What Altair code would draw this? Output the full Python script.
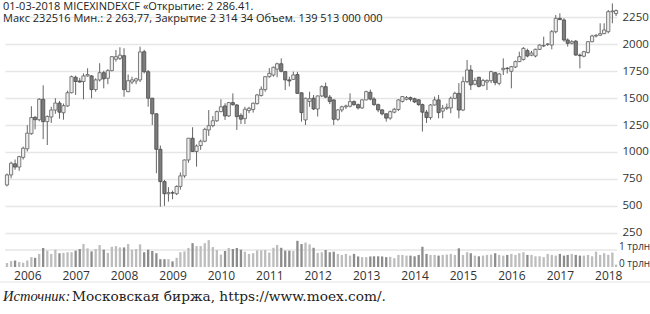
import altair as alt
import pandas as pd

# ---------------- data ----------------
months = []
y, m = 2005, 8
for _ in range(152):
    months.append(f"{y}-{m:02d}-01T00:00:00")
    m += 1
    if m > 12:
        m = 1
        y += 1

open_ = [694, 787, 890, 860, 950, 1030, 1170, 1322, 1300, 1490,
         1282, 1325, 1390, 1455, 1365, 1428, 1551, 1694, 1660, 1655,
         1707, 1707, 1580, 1670, 1737, 1685, 1756, 1862, 1870, 1895,
         1561, 1650, 1660, 1670, 1932, 1746, 1500, 1355, 1025, 725,
         612, 622, 612, 680, 778, 926, 1128, 1005, 1060, 1100,
         1205, 1245, 1290, 1375, 1428, 1335, 1459, 1437, 1340, 1310,
         1385, 1395, 1450, 1525, 1580, 1700, 1715, 1770, 1820, 1747,
         1670, 1675, 1720, 1550, 1298, 1470, 1500, 1400, 1521, 1607,
         1510, 1484, 1304, 1391, 1420, 1425, 1468, 1440, 1410, 1484,
         1555, 1492, 1440, 1391, 1355, 1315, 1370, 1395, 1470, 1490,
         1505, 1495, 1485, 1440, 1370, 1320, 1437, 1484, 1380, 1406,
         1410, 1499, 1545, 1390, 1654, 1762, 1630, 1694, 1620, 1650,
         1663, 1737, 1638, 1765, 1778, 1750, 1790, 1840, 1860, 1942,
         1900, 1892, 1954, 1985, 2000, 1994, 2118, 2242, 2227, 2041,
         2010, 2030, 1901, 1890, 1925, 2025, 2078, 2085, 2100, 2118,
         2304, 2286]
high = [800, 910, 930, 965, 1050, 1250, 1425, 1335, 1500, 1620,
        1340, 1420, 1500, 1475, 1450, 1570, 1710, 1710, 1690, 1730,
        1778, 1715, 1685, 1825, 1755, 1770, 1892, 1948, 1973, 1964,
        1720, 1700, 1690, 1979, 1950, 1762, 1500, 1360, 1060, 740,
        673, 641, 690, 810, 930, 1130, 1230, 1070, 1115, 1225,
        1390, 1335, 1385, 1490, 1453, 1465, 1545, 1445, 1360, 1420,
        1420, 1460, 1540, 1610, 1705, 1780, 1795, 1830, 1870, 1750,
        1700, 1747, 1745, 1555, 1505, 1560, 1530, 1525, 1620, 1645,
        1530, 1490, 1400, 1430, 1440, 1545, 1480, 1450, 1490, 1570,
        1580, 1510, 1450, 1400, 1360, 1385, 1410, 1490, 1520, 1520,
        1515, 1505, 1490, 1450, 1390, 1445, 1515, 1530, 1437, 1450,
        1515, 1560, 1640, 1700, 1855, 1808, 1690, 1700, 1680, 1675,
        1755, 1745, 1735, 1870, 1790, 1800, 1850, 1932, 1975, 1960,
        1940, 1960, 2000, 2072, 2010, 2134, 2273, 2289, 2243, 2056,
        2040, 2041, 1915, 1940, 2030, 2090, 2095, 2196, 2196, 2320,
        2381, 2325]
low = [680, 756, 835, 825, 930, 1005, 1160, 1210, 1285, 1120,
       1065, 1270, 1355, 1310, 1300, 1420, 1545, 1530, 1645, 1490,
       1700, 1499, 1560, 1655, 1592, 1630, 1750, 1840, 1855, 1514,
       1555, 1630, 1630, 1650, 1730, 1421, 1251, 803, 492, 499,
       539, 561, 600, 650, 760, 900, 1000, 864, 1020, 1090,
       1150, 1230, 1280, 1370, 1298, 1325, 1430, 1205, 1260, 1260,
       1360, 1366, 1440, 1515, 1560, 1690, 1700, 1695, 1740, 1576,
       1610, 1670, 1540, 1282, 1251, 1420, 1390, 1330, 1510, 1500,
       1445, 1251, 1290, 1370, 1400, 1415, 1430, 1395, 1400, 1480,
       1480, 1430, 1370, 1340, 1282, 1300, 1360, 1380, 1460, 1480,
       1470, 1455, 1430, 1190, 1270, 1300, 1430, 1313, 1313, 1390,
       1360, 1490, 1313, 1380, 1640, 1576, 1620, 1600, 1610, 1576,
       1640, 1620, 1620, 1715, 1730, 1592, 1780, 1835, 1850, 1880,
       1890, 1880, 1950, 1975, 1985, 1954, 2103, 2227, 2025, 1980,
       2000, 1895, 1777, 1880, 1915, 2020, 2065, 2080, 2095, 2103,
       2196, 2264]
close = [787, 895, 860, 957, 1035, 1175, 1320, 1300, 1490, 1282,
         1330, 1390, 1455, 1370, 1430, 1551, 1700, 1655, 1650, 1707,
         1720, 1580, 1670, 1737, 1680, 1756, 1886, 1886, 1900, 1580,
         1663, 1670, 1680, 1930, 1746, 1500, 1355, 1025, 725, 612,
         622, 618, 680, 778, 926, 1128, 1005, 1056, 1100, 1210,
         1245, 1290, 1375, 1420, 1335, 1459, 1440, 1329, 1305, 1397,
         1406, 1453, 1530, 1583, 1700, 1731, 1787, 1820, 1750, 1670,
         1660, 1716, 1545, 1366, 1499, 1495, 1400, 1521, 1607, 1510,
         1470, 1304, 1391, 1420, 1428, 1468, 1440, 1410, 1484, 1561,
         1492, 1440, 1391, 1355, 1315, 1375, 1397, 1484, 1515, 1505,
         1490, 1465, 1440, 1370, 1320, 1437, 1484, 1366, 1406, 1415,
         1499, 1545, 1390, 1654, 1762, 1623, 1665, 1610, 1665, 1665,
         1747, 1645, 1725, 1778, 1775, 1793, 1840, 1886, 1963, 1892,
         1920, 1954, 1994, 1990, 2004, 2118, 2242, 2230, 2041, 2010,
         2025, 1901, 1895, 1932, 2025, 2078, 2085, 2100, 2134, 2304,
         2310, 2314]
volume = [0.23, 0.35, 0.38, 0.29, 0.25, 0.38, 0.58, 0.54, 0.77, 1.12,
          0.96, 0.77, 1.02, 0.81, 0.83, 0.87, 0.87, 0.96, 1.06, 1.35,
          1.10, 0.92, 1.06, 1.29, 1.02, 0.83, 1.19, 1.23, 1.15, 1.15,
          1.35, 1.02, 1.06, 1.33, 0.87, 1.02, 0.94, 0.81, 0.46, 0.46,
          0.46, 0.33, 0.54, 0.87, 0.92, 1.12, 1.40, 1.23, 1.23, 1.40,
          1.58, 1.17, 1.00, 0.73, 0.94, 1.12, 1.06, 1.12, 1.02, 0.90,
          0.77, 0.81, 0.98, 0.98, 1.00, 0.85, 1.13, 1.29, 1.13, 0.96,
          0.96, 0.94, 1.54, 1.35, 1.44, 1.33, 1.13, 0.83, 0.87, 1.00,
          0.87, 0.90, 0.77, 0.71, 0.77, 0.67, 0.77, 0.62, 0.58, 0.58,
          0.62, 0.63, 0.63, 0.62, 0.58, 0.60, 0.52, 0.71, 0.71, 0.67,
          0.67, 0.63, 0.71, 1.19, 0.77, 0.71, 0.71, 0.67, 0.71, 0.73,
          0.77, 0.71, 1.10, 0.71, 0.87, 0.81, 0.67, 0.63, 0.67, 0.71,
          0.73, 0.81, 0.71, 0.67, 0.71, 0.77, 0.71, 0.81, 0.87, 0.71,
          0.71, 0.63, 0.63, 0.58, 0.77, 0.71, 0.67, 0.77, 0.67, 0.71,
          0.77, 0.71, 0.67, 0.67, 0.71, 0.63, 0.90, 0.71, 0.81, 0.72,
          0.85, 0.14]

price_ticks = [250, 500, 750, 1000, 1250, 1500, 1750, 2000, 2250]
volume_ticks = [0, 1]
year_ticks = list(range(2006, 2019))

header_lines = ["01-03-2018 MICEXINDEXCF «Открытие: 2 286.41.",
                "Макс 232516 Мин.: 2 263,77, Закрытие 2 314 34 Объем. 139 513 000 000"]
source_label = "Источник:"
source_text = "Московская биржа, https://www.moex.com/."

df = pd.DataFrame(dict(date=months, open=open_, high=high, low=low,
                       close=close, vol=volume))

FONT = "Open Sans"
W, H = 612, 267
DOWN = "datum.close < datum.open"

xscale = alt.Scale(domain=[alt.DateTime(year=2005, month=7, date=17),
                           alt.DateTime(year=2018, month=3, date=8)],
                   padding=0)
xaxis = alt.Axis(values=[alt.DateTime(year=yy, month=1, date=1) for yy in year_ticks],
                 format="%Y", title=None, grid=False, domain=False, ticks=False,
                 labelFont=FONT, labelFontSize=12, labelColor="#333",
                 labelPadding=3.5, labelAlign="center")
X = alt.X("date:T", scale=xscale, axis=xaxis)

pscale = alt.Scale(domain=[-68.8, 2412.6], nice=False, zero=False)
paxis = alt.Axis(orient="right", values=price_ticks, title=None, grid=True,
                 gridColor="#e6e6e6", gridWidth=1.5, domain=False, ticks=False,
                 labelFont=FONT, labelFontSize=11.5, labelColor="#333",
                 labelPadding=5, format="d")

vscale = alt.Scale(domain=[0, 15.7], nice=False, zero=False)
vaxis = alt.Axis(orient="right", values=volume_ticks, title=None, grid=False,
                 domain=False, ticks=False, labelFont=FONT, labelFontSize=10,
                 labelColor="#333", labelPadding=1.5, labelOffset=-3.5,
                 labelExpr="datum.value + ' трлн'")

base = alt.Chart(df)
wick = base.mark_rule(color="#666666", strokeWidth=1).encode(
    x=X, y=alt.Y("low:Q", scale=pscale, axis=paxis), y2="high:Q")
body = base.mark_bar(size=3.2, strokeWidth=0.8).encode(
    x=X, y=alt.Y("open:Q", scale=pscale, axis=paxis), y2="close:Q",
    fill=alt.condition(DOWN, alt.value("#7d7d7d"), alt.value("#eeeeee")),
    stroke=alt.condition(DOWN, alt.value("#4a4a4a"), alt.value("#5e5e5e")))
price = alt.layer(wick, body)

vgrid = alt.Chart(pd.DataFrame({"v": [1]})).mark_rule(
    color="#e6e6e6", strokeWidth=1.5).encode(
    y=alt.Y("v:Q", scale=vscale, axis=vaxis))
vbars = base.mark_bar(size=2.3).encode(
    x=X, y=alt.Y("vol:Q", scale=vscale, axis=vaxis),
    color=alt.condition(DOWN, alt.value("#8c8c8c"), alt.value("#bdbdbd")))
vol = alt.layer(vgrid, vbars)

header = alt.Chart(pd.DataFrame({"a": [0]})).mark_text(
    align="left", baseline="top", font=FONT, fontSize=11, lineHeight=12,
    color="#222").encode(
    x=alt.value(-2), y=alt.value(1), text=alt.value(header_lines))

f1 = alt.Chart(pd.DataFrame({"t": [source_label]})).mark_text(
    align="left", baseline="alphabetic", font="Liberation Serif", fontStyle="italic",
    fontSize=14.5, color="#222").encode(x=alt.value(-2), y=alt.value(300.5), text="t:N")
f2 = alt.Chart(pd.DataFrame({"t": [source_text]})).mark_text(
    align="left", baseline="alphabetic", font="DejaVu Serif",
    fontSize=13.7, color="#222").encode(x=alt.value(67), y=alt.value(300.5), text="t:N")

bottom_line = alt.Chart(pd.DataFrame({"a": [0]})).mark_rule(
    color="#e3e3e3", strokeWidth=1).encode(
    x=alt.value(-5), x2=alt.value(645), y=alt.value(282))

chart = alt.layer(price, vol, header, f1, f2, bottom_line).resolve_scale(
    y="independent"
).properties(
    width=W, height=H,
    autosize=alt.AutoSizeParams(type="none"),
    padding={"left": 5, "top": 0, "right": 33, "bottom": 47},
    background="white",
).configure_view(stroke=None)

chart.save("out.html", embed_options={"renderer": "svg", "actions": False})
